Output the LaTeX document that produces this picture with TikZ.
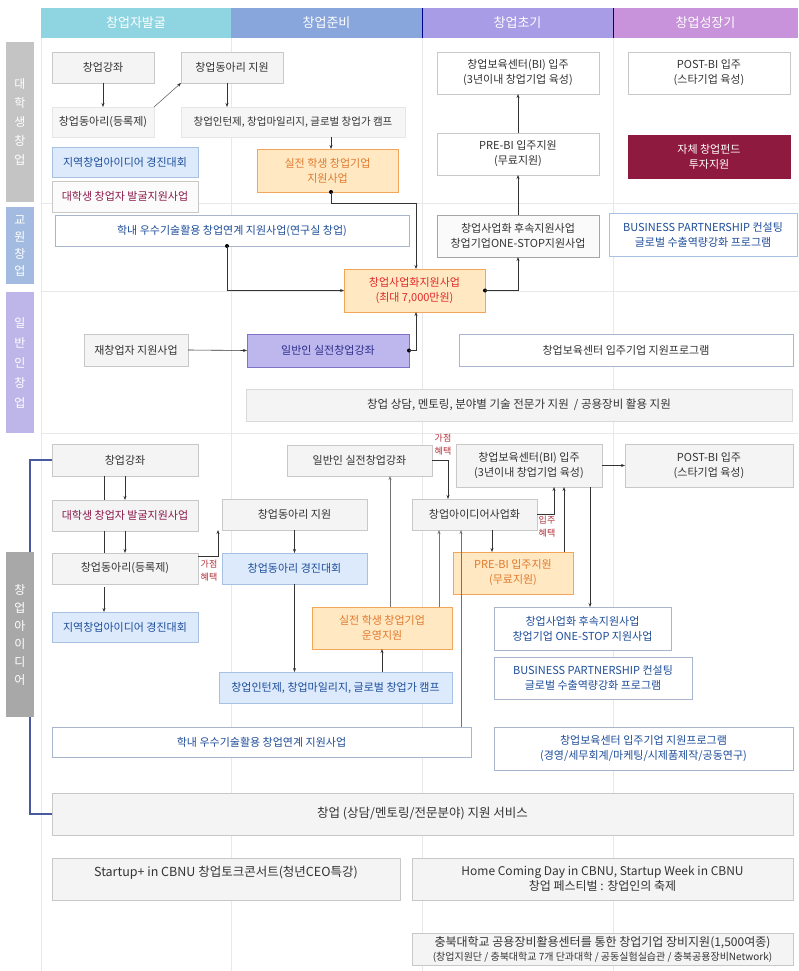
\documentclass[tikz,border=0pt]{standalone}
\usepackage{fontspec}
\setmainfont{Noto Sans CJK KR}
\usetikzlibrary{arrows.meta,calc}
\definecolor{gfill}{HTML}{F4F4F4}
\definecolor{gline}{HTML}{C8C8C8}
\definecolor{gtext}{HTML}{333333}
\definecolor{lfill}{HTML}{F6F6F6}
\definecolor{lline}{HTML}{E6E6E6}
\definecolor{bfill}{HTML}{DCEAFC}
\definecolor{bline}{HTML}{A7C1E3}
\definecolor{btext}{HTML}{1F4E9A}
\definecolor{ofill}{HTML}{FFE8C2}
\definecolor{oline}{HTML}{F2A65A}
\definecolor{otext}{HTML}{E07A2E}
\definecolor{rtext}{HTML}{E02A2A}
\definecolor{mtext}{HTML}{8B1A4A}
\definecolor{vfill}{HTML}{BDB7EE}
\definecolor{vline}{HTML}{7F72C8}
\definecolor{vtext}{HTML}{2E2E8A}
\definecolor{wline}{HTML}{A9B5CC}
\definecolor{mfill}{HTML}{8E1B3F}
\definecolor{hA}{HTML}{8FD5E1}
\definecolor{hB}{HTML}{88A5DC}
\definecolor{hC}{HTML}{A79CE5}
\definecolor{hD}{HTML}{C893DA}
\definecolor{gridc}{HTML}{E8E8E8}
\definecolor{labA}{HTML}{C4C4C4}
\definecolor{labB}{HTML}{A3BBE0}
\definecolor{labC}{HTML}{BEB6E8}
\definecolor{labD}{HTML}{A8A8A8}
\definecolor{bracket}{HTML}{4A5AA0}
\definecolor{redlabc}{HTML}{B0303A}
\newcommand\Bx[7]{\node[#1, minimum width={(#5-#3)*1pt}, minimum height={(#6-#4)*1pt}] (#2) at ({(#3+#5)/2},{(#4+#6)/2}) {#7};}
\begin{document}
\begin{tikzpicture}[x=1pt,y=-1pt,
  base/.style={draw, line width=0.6pt, inner sep=1pt, outer sep=0pt, align=center, font=\fontsize{11}{15}\selectfont},
  gbox/.style={base, fill=gfill, draw=gline, text=gtext},
  lbox/.style={base, fill=lfill, draw=lline, text=gtext},
  wbox/.style={base, fill=white, draw=gline, text=gtext},
  wbbox/.style={base, fill=white, draw=wline, text=btext},
  bbox/.style={base, fill=bfill, draw=bline, text=btext},
  obox/.style={base, fill=ofill, draw=oline, text=otext},
  vbox/.style={base, fill=vfill, draw=vline, text=vtext},
  mbox/.style={base, fill=mfill, draw=mfill, text=white},
  hbox/.style={base, draw=none, text=white, font=\fontsize{13}{15}\selectfont},
  labbox/.style={base, draw=none, text=white, minimum width=28pt},
  arr/.style={-{Stealth[length=4pt,width=3pt]}, line width=0.6pt, draw=black!80},
  garr/.style={-{Stealth[length=4pt,width=3pt]}, line width=0.6pt, draw=black!55},
  ln/.style={line width=0.6pt, draw=black!80},
  redlab/.style={text=redlabc, align=center, inner sep=0pt, font=\fontsize{9}{13}\selectfont},
  dotc/.style={fill=black}
]
\useasboundingbox (0,0) rectangle (798,971);
\fill[white] (0,0) rectangle (798,971);
% grid
\draw[gridc, line width=0.6pt] (41,38) -- (41,971);
\draw[gridc, line width=0.6pt] (231,38) -- (231,971);
\draw[gridc, line width=0.6pt] (422,38) -- (422,971);
\draw[gridc, line width=0.6pt] (613,38) -- (613,971);
\draw[gridc, line width=0.6pt] (41,203) -- (798,203);
\draw[gridc, line width=0.6pt] (41,291) -- (798,291);
\draw[gridc, line width=0.6pt] (41,433) -- (798,433);
% headers
\Bx{hbox, fill=hA}{h1}{41}{8}{231}{38}{창업자발굴}
\Bx{hbox, fill=hB}{h2}{231}{8}{422}{38}{창업준비}
\Bx{hbox, fill=hC}{h3}{422}{8}{613}{38}{창업초기}
\Bx{hbox, fill=hD}{h4}{613}{8}{798}{38}{창업성장기}
\draw[black!20!blue!70!black, line width=0.8pt] (422,8) -- (422,38);
\draw[black!20!blue!70!black, line width=0.8pt] (613,8) -- (613,38);
% left labels
\Bx{labbox, fill=labA, font=\fontsize{12}{19}\selectfont}{L1}{6}{42}{34}{202}{대\\학\\생\\창\\업}
\Bx{labbox, fill=labB, font=\fontsize{12}{17}\selectfont}{L2}{6}{207}{34}{284}{교\\원\\창\\업}
\Bx{labbox, fill=labC, font=\fontsize{12}{20}\selectfont}{L3}{6}{292}{34}{433}{일\\반\\인\\창\\업}
\Bx{labbox, fill=labD, font=\fontsize{12}{18}\selectfont}{L4}{6}{552}{34}{717}{창\\업\\아\\이\\디\\어}

% ===== top section =====
\Bx{gbox}{t_gj}{52}{52}{154}{83}{창업강좌}
\Bx{gbox}{t_dj}{181}{52}{283}{83}{창업동아리 지원}
\Bx{lbox}{t_dr}{52}{107}{154}{137}{창업동아리(등록제)}
\Bx{lbox, font=\fontsize{10.5}{14}\selectfont}{t_in}{181}{107}{405}{137}{창업인턴제, 창업마일리지, 글로벌 창업가 캠프}
\Bx{bbox}{t_jy}{52}{147}{198}{177}{지역창업아이디어 경진대회}
\Bx{gbox, fill=white!60!gfill, text=mtext}{t_ds}{52}{181}{198}{212}{대학생 창업자 발굴지원사업}
\Bx{obox}{t_sj}{257}{149}{398}{192}{실전 학생 창업기업\\지원사업}
\Bx{wbbox}{t_hn}{55}{215}{409}{246}{학내 우수기술활용 창업연계 지원사업(연구실 창업)}
\Bx{obox, text=rtext}{t_cs}{344}{269}{485}{312}{창업사업화지원사업\\(최대 7,000만원)}
\Bx{gbox}{t_jc}{84}{334}{188}{366}{재창업자 지원사업}
\Bx{vbox}{t_il}{247}{334}{409}{367}{일반인 실전창업강좌}
\Bx{wbox, fill=white!50!gfill, draw=black!35}{t_hs}{437}{215}{599}{257}{창업사업화 후속지원사업\\창업기업ONE-STOP지원사업}
\Bx{wbox}{t_pre}{437}{133}{599}{175}{PRE-BI 입주지원\\(무료지원)}
\Bx{wbox}{t_bi}{437}{52}{599}{94}{창업보육센터(BI) 입주\\(3년이내 창업기업 육성)}
\Bx{wbox}{t_post}{628}{52}{790}{94}{POST-BI 입주\\(스타기업 육성)}
\Bx{mbox}{t_fund}{628}{135}{790}{178}{자체 창업펀드\\투자지원}
\Bx{wbbox, draw=bline}{t_bp}{609}{213}{797}{256}{BUSINESS PARTNERSHIP 컨설팅\\글로벌 수출역량강화 프로그램}
\Bx{wbox, draw=wline}{t_bo}{459}{334}{793}{366}{창업보육센터 입주기업 지원프로그램}
\Bx{gbox, draw=gline!70, font=\fontsize{11.5}{15}\selectfont}{t_sd}{246}{389}{792}{421}{창업 상담, 멘토링, 분야별 기술 전문가 지원 \ / 공용장비 활용 지원}

% top connectors
\draw[arr] (t_gj.south) -- (t_dr.north);
\draw[arr, line width=0.4pt] (t_dr.north east) -- (t_dj.south west);
\draw[arr] ([xshift=-5pt]t_dj.south) -- ([xshift=-5pt]t_dj.south |- t_in.north);
\draw[arr] ([xshift=3.5pt]t_sj.north |- t_in.south) -- ([xshift=3.5pt]t_sj.north);
\fill[dotc] ([xshift=3.5pt]t_sj.south) circle[radius=2pt];
\draw[arr] ([xshift=3.5pt]t_sj.south) -- ++(0,11) -| ([xshift=1.5pt]t_cs.north);
\fill[dotc] ([xshift=-5pt]t_hn.south) circle[radius=2pt];
\draw[arr] ([xshift=-5pt]t_hn.south) |- (t_cs.west);
\draw[arr] (t_jc.east) -- (t_il.west);
\fill[dotc] (t_il.east) circle[radius=2pt];
\draw[arr] (t_il.east) -| ([xshift=1.5pt]t_cs.south);
\fill[dotc] (t_cs.east) circle[radius=2pt];
\draw[arr] (t_cs.east) -| (t_hs.south);
\draw[arr] (t_hs.north) -- (t_pre.south);
\draw[arr] (t_pre.north) -- (t_bi.south);

% ===== bottom section =====
\Bx{gbox}{b_gj}{52}{444}{198}{476}{창업강좌}
\Bx{gbox, text=mtext}{b_ds}{52}{500}{198}{531}{대학생 창업자 발굴지원사업}
\Bx{gbox}{b_dr}{52}{553}{198}{584}{창업동아리(등록제)}
\Bx{bbox}{b_jy}{52}{612}{198}{642}{지역창업아이디어 경진대회}
\Bx{gbox}{b_dj}{222}{499}{367}{530}{창업동아리 지원}
\Bx{bbox}{b_dk}{222}{553}{367}{584}{창업동아리 경진대회}
\Bx{bbox}{b_in}{219}{672}{452}{703}{창업인턴제, 창업마일리지, 글로벌 창업가 캠프}
\Bx{obox}{b_sj}{312}{607}{452}{649}{실전 학생 창업기업\\운영지원}
\Bx{gbox}{b_il}{287}{445}{432}{476}{일반인 실전창업강좌}
\Bx{gbox}{b_ia}{412}{499}{537}{530}{창업아이디어사업화}
\Bx{gbox}{b_bi}{456}{444}{602}{487}{창업보육센터(BI) 입주\\(3년이내 창업기업 육성)}
\Bx{gbox}{b_post}{625}{444}{793}{487}{POST-BI 입주\\(스타기업 육성)}
\Bx{obox}{b_pre}{453}{552}{573}{594}{PRE-BI 입주지원\\(무료지원)}
\Bx{wbbox}{b_hs}{494}{607}{671}{650}{창업사업화 후속지원사업\\창업기업 ONE-STOP 지원사업}
\Bx{wbbox}{b_bp}{494}{657}{692}{699}{BUSINESS PARTNERSHIP 컨설팅\\글로벌 수출역량강화 프로그램}
\Bx{wbbox}{b_bo}{494}{727}{793}{770}{창업보육센터 입주기업 지원프로그램\\(경영/세무회계/마케팅/시제품제작/공동연구)}
\Bx{wbbox}{b_hn}{52}{727}{471}{757}{학내 우수기술활용 창업연계 지원사업}
\Bx{gbox, font=\fontsize{12.5}{15}\selectfont}{b_sv}{52}{793}{793}{835}{창업 (상담/멘토링/전문분야) 지원 서비스}
\Bx{gbox, font=\fontsize{12.5}{16}\selectfont}{b_st}{52}{858}{400}{900}{Startup+ in CBNU 창업토크콘서트(청년CEO특강)\\\mbox{}}
\Bx{gbox, font=\fontsize{12}{15}\selectfont}{b_hc}{412}{858}{793}{900}{Home Coming Day in CBNU, Startup Week in CBNU\\창업 페스티벌 : 창업인의 축제}
\Bx{gbox, font=\fontsize{12}{14}\selectfont}{b_eq}{412}{933}{793}{965}{충북대학교 공용장비활용센터를 통한 창업기업 장비지원(1,500여종)\\{\fontsize{10}{12}\selectfont (창업지원단 / 충북대학교 7개 단과대학 / 공동실험실습관 / 충북공용장비Network)}}

% labels
\node[redlab] (lb1) at (209,571) {가점\\혜택};
\node[redlab] (lb2) at (443,445) {가점\\혜택};
\node[redlab] (lb3) at (547,527) {입주\\혜택};

% bottom connectors
\draw[ln] ([xshift=-21pt]b_gj.south) -- ([xshift=-21pt]b_ds.north);
\draw[arr] (b_gj.south) -- (b_ds.north);
\draw[ln] ([xshift=-21pt]b_ds.south) -- ([xshift=-21pt]b_dr.north);
\draw[arr] (b_ds.south) -- (b_dr.north);
\draw[arr] ([xshift=-21pt,yshift=-3pt]b_dr.south) -- ([xshift=-21pt]b_jy.north);
\draw[arr] ([yshift=-3pt]b_dr.north east) -| ([xshift=-4pt]b_dj.south west);
\draw[arr] (b_dj.south) -- (b_dk.north);
\draw[arr] (b_dk.south) -- (b_dk.south |- b_in.north);
\draw[arr] (b_sj.south |- b_in.north) -- (b_sj.south);
\draw[garr] ([xshift=8pt]b_sj.north) -- ([xshift=8pt]b_sj.north |- b_il.south);
\draw[garr] ([xshift=57pt]b_sj.north) -- ([xshift=57pt]b_sj.north |- b_ia.south);
\draw[garr] ([xshift=-13.5pt]b_ia.south |- b_hn.north) -- ([xshift=-13.5pt]b_ia.south);
\draw[arr] (b_il.east) -| ([xshift=-26.5pt]b_ia.north);
\draw[arr] (b_ia.east) -| ([xshift=25pt]b_bi.south);
\draw[arr] ([xshift=17.5pt]b_ia.south) -- ([xshift=17.5pt]b_ia.south |- b_pre.north);
\draw[arr] ([xshift=51pt]b_pre.north) -- ([xshift=51pt]b_pre.north |- b_bi.south);
\draw[arr] ([xshift=61pt]b_bi.south) -- ([xshift=61pt]b_bi.south |- b_hs.north);
\draw[arr] (b_bi.east) -- (b_post.west);

% blue bracket
\draw[bracket, line width=1.1pt] (b_gj.west) -| ([xshift=10pt]L4.north);
\draw[bracket, line width=1.1pt] ([xshift=10pt]L4.south) |- (b_sv.west);
\end{tikzpicture}
\end{document}
